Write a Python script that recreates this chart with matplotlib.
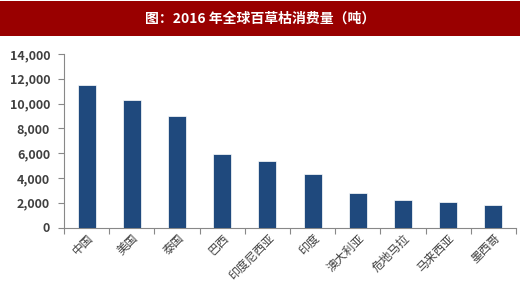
import matplotlib
matplotlib.use("Agg")
import matplotlib.pyplot as plt
from matplotlib.patches import Rectangle
from matplotlib.ticker import FuncFormatter, FixedLocator

plt.rcParams['font.family'] = ['Noto Sans CJK SC', 'DejaVu Sans']

title = "图：2016 年全球百草枯消费量（吨）"
countries = ["中国", "美国", "泰国", "巴西", "印度尼西亚", "印度", "澳大利亚", "危地马拉", "马来西亚", "墨西哥"]
consumption = [11500, 10250, 9000, 5950, 5350, 4300, 2750, 2200, 2050, 1800]
yticks = [0, 2000, 4000, 6000, 8000, 10000, 12000, 14000]

W, H = 520, 286
fig = plt.figure(figsize=(W / 100, H / 100), dpi=100)
fig.patch.set_facecolor("white")

# Title band
fig.patches.append(Rectangle((0, 1 - 36 / H), 1, 35 / H, transform=fig.transFigure,
                             facecolor="#990000", edgecolor="none", zorder=0))
fig.text(0.5, 1 - 18.5 / H, title, color="white", fontsize=10, fontweight="bold",
         ha="center", va="center")

ax = fig.add_axes([64 / W, 1 - 227.5 / H, (516 - 64) / W, (227.5 - 54) / H])
x = list(range(len(countries)))
ax.bar(x, consumption, width=0.4, color="#1F497D", edgecolor="white", linewidth=0.5, zorder=3)

ax.set_xlim(-0.5, len(countries) - 0.5)
ax.set_ylim(0, 14000)
ax.set_yticks(yticks)
ax.yaxis.set_major_formatter(FuncFormatter(lambda v, p: f"{int(v):,}"))
for lbl in ax.get_yticklabels():
    lbl.set_fontweight("bold")
ax.tick_params(axis="y", labelsize=9, colors="#888888", labelcolor="#404040", length=4, width=0.8, pad=6)

ax.set_xticks(x)
ax.set_xticklabels(countries, rotation=45, ha="right", rotation_mode="anchor", fontsize=8.5, color="#404040")
ax.tick_params(axis="x", which="major", length=0, pad=3)
ax.xaxis.set_minor_locator(FixedLocator([i - 0.5 for i in range(len(countries) + 1)]))
ax.tick_params(axis="x", which="minor", length=4, width=0.8, colors="#888888")

for s in ["top", "right"]:
    ax.spines[s].set_visible(False)
for s in ["left", "bottom"]:
    ax.spines[s].set_color("#888888")
    ax.spines[s].set_linewidth(0.8)

fig.savefig("out.png", dpi=100)
